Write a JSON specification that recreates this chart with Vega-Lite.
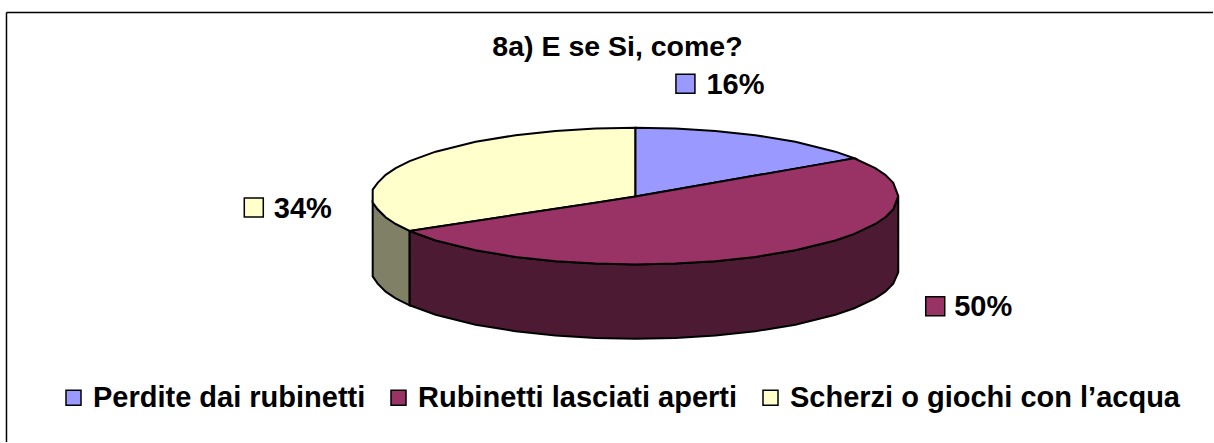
{
"$schema":"https://vega.github.io/schema/vega-lite/v6.json",
"width":1214,"height":443,
"padding":0,
"autosize":{"type":"fit","contains":"padding"},
"background":"white",
"view":{"stroke":null},
"config":{"font":"Liberation Sans"},
"datasets":{
"top":[
{"s":"Scherzi o giochi con l’acqua","x":373,"y":190,"y2":203},{"s":"Scherzi o giochi con l’acqua","x":378,"y":183.2,"y2":209.8},{"s":"Scherzi o giochi con l’acqua","x":386,"y":175.2,"y2":217.8},{"s":"Scherzi o giochi con l’acqua","x":396,"y":168.5,"y2":224.5},{"s":"Scherzi o giochi con l’acqua","x":410,"y":161.5,"y2":231.5},{"s":"Scherzi o giochi con l’acqua","x":436,"y":152,"y2":227.5},{"s":"Scherzi o giochi con l’acqua","x":476,"y":142.1,"y2":221.4},{"s":"Scherzi o giochi con l’acqua","x":516,"y":135.5,"y2":215.3},{"s":"Scherzi o giochi con l’acqua","x":556,"y":131.2,"y2":209.2},{"s":"Scherzi o giochi con l’acqua","x":596,"y":128.8,"y2":203.1},{"s":"Scherzi o giochi con l’acqua","x":636,"y":128,"y2":197},
{"s":"Perdite dai rubinetti","x":636,"y":128,"y2":197},{"s":"Perdite dai rubinetti","x":676,"y":128.8,"y2":190},{"s":"Perdite dai rubinetti","x":716,"y":131.2,"y2":183},{"s":"Perdite dai rubinetti","x":756,"y":135.5,"y2":176},{"s":"Perdite dai rubinetti","x":796,"y":142.1,"y2":169},{"s":"Perdite dai rubinetti","x":836,"y":152,"y2":162},{"s":"Perdite dai rubinetti","x":855,"y":158.6,"y2":158.6},
{"s":"Rubinetti lasciati aperti","x":410,"y":231.5,"y2":231.5},{"s":"Rubinetti lasciati aperti","x":436,"y":227.5,"y2":241},{"s":"Rubinetti lasciati aperti","x":476,"y":221.4,"y2":250.9},{"s":"Rubinetti lasciati aperti","x":516,"y":215.3,"y2":257.5},{"s":"Rubinetti lasciati aperti","x":556,"y":209.2,"y2":261.8},{"s":"Rubinetti lasciati aperti","x":596,"y":203.1,"y2":264.2},{"s":"Rubinetti lasciati aperti","x":636,"y":197,"y2":265},{"s":"Rubinetti lasciati aperti","x":676,"y":190,"y2":264.2},{"s":"Rubinetti lasciati aperti","x":716,"y":183,"y2":261.8},{"s":"Rubinetti lasciati aperti","x":756,"y":176,"y2":257.5},{"s":"Rubinetti lasciati aperti","x":796,"y":169,"y2":250.9},{"s":"Rubinetti lasciati aperti","x":836,"y":162,"y2":241},{"s":"Rubinetti lasciati aperti","x":855,"y":158.6,"y2":234.4},{"s":"Rubinetti lasciati aperti","x":876,"y":168.5,"y2":224.5},{"s":"Rubinetti lasciati aperti","x":886,"y":175.2,"y2":217.8},{"s":"Rubinetti lasciati aperti","x":894,"y":183.2,"y2":209.8},{"s":"Rubinetti lasciati aperti","x":899,"y":196.5,"y2":196.5}
],
"sideOlive":[{"x":373,"y":203,"y2":277},{"x":378,"y":209.8,"y2":284.3},{"x":386,"y":217.8,"y2":292.3},{"x":396,"y":224.5,"y2":299},{"x":410,"y":231.5,"y2":306}],
"sideRed":[{"x":410,"y":231.5,"y2":306},{"x":436,"y":241,"y2":315.5},{"x":476,"y":250.9,"y2":325.4},{"x":516,"y":257.5,"y2":332},{"x":556,"y":261.8,"y2":336.3},{"x":596,"y":264.2,"y2":338.7},{"x":636,"y":265,"y2":339.5},{"x":676,"y":264.2,"y2":338.7},{"x":716,"y":261.8,"y2":336.3},{"x":756,"y":257.5,"y2":332},{"x":796,"y":250.9,"y2":325.4},{"x":836,"y":241,"y2":315.5},{"x":855,"y":234.4,"y2":308.9},{"x":876,"y":224.5,"y2":299},{"x":886,"y":217.8,"y2":292.3},{"x":894,"y":209.8,"y2":284.3},{"x":899,"y":197,"y2":273}],
"labels":[
{"s":"Perdite dai rubinetti","pct":"16%","sx":686,"tx":707,"y":84},
{"s":"Rubinetti lasciati aperti","pct":"50%","sx":936,"tx":955,"y":307},
{"s":"Scherzi o giochi con l’acqua","pct":"34%","sx":254,"tx":274,"y":208}
],
"frame":[{"x":6.5,"x2":1214,"y":12.5,"y2":12.5},{"x":6.5,"x2":6.5,"y":12.5,"y2":443}],
"heading":[{"x":618,"y":47,"t":"8a) E se Si, come?"}]
},
"layer":[
{"data":{"name":"frame"},"mark":{"type":"rule","color":"black","strokeWidth":1.5},"encoding":{"x":{"field":"x","type":"quantitative","scale":{"domain":[0,1214],"nice":false},"axis":null},"x2":{"field":"x2"},"y":{"field":"y","type":"quantitative","scale":{"domain":[443,0],"nice":false,"zero":false},"axis":null},"y2":{"field":"y2"}}},
{"data":{"name":"sideOlive"},"mark":{"type":"area","color":"#808066","stroke":"black","strokeWidth":2},"encoding":{"x":{"field":"x","type":"quantitative"},"y":{"field":"y","type":"quantitative","stack":null},"y2":{"field":"y2"}}},
{"data":{"name":"sideRed"},"mark":{"type":"area","color":"#4D1A33","stroke":"black","strokeWidth":2},"encoding":{"x":{"field":"x","type":"quantitative"},"y":{"field":"y","type":"quantitative","stack":null},"y2":{"field":"y2"}}},
{"data":{"name":"top"},"mark":{"type":"area","stroke":"black","strokeWidth":2},"encoding":{"x":{"field":"x","type":"quantitative"},"y":{"field":"y","type":"quantitative","stack":null},"y2":{"field":"y2"},
"color":{"field":"s","type":"nominal","scale":{"domain":["Perdite dai rubinetti","Rubinetti lasciati aperti","Scherzi o giochi con l’acqua"],"range":["#9999FF","#993366","#FFFFCC"]},
"legend":{"title":null,"orient":"none","legendX":59,"legendY":383,"direction":"horizontal","columns":3,"symbolType":"square","symbolSize":225,"symbolStrokeColor":"black","symbolStrokeWidth":1.5,"symbolOpacity":1,"labelFont":"Liberation Sans","labelFontWeight":"bold","labelFontSize":29,"labelColor":"black","labelLimit":600,"labelOffset":5,"columnPadding":18,"symbolOffset":0,"rowPadding":0}}}},
{"data":{"name":"labels"},"mark":{"type":"point","shape":"square","filled":true,"size":361,"stroke":"black","strokeWidth":1.5,"opacity":1},"encoding":{"x":{"field":"sx","type":"quantitative"},"y":{"field":"y","type":"quantitative"},"fill":{"field":"s","type":"nominal","scale":{"domain":["Perdite dai rubinetti","Rubinetti lasciati aperti","Scherzi o giochi con l’acqua"],"range":["#9999FF","#993366","#FFFFCC"]},"legend":null}}},
{"data":{"name":"labels"},"mark":{"type":"text","align":"left","baseline":"middle","dy":1,"font":"Liberation Sans","fontWeight":"bold","fontSize":29,"color":"black"},"encoding":{"x":{"field":"tx","type":"quantitative"},"y":{"field":"y","type":"quantitative"},"text":{"field":"pct"}}},
{"data":{"name":"heading"},"mark":{"type":"text","align":"center","baseline":"middle","font":"Liberation Sans","fontWeight":"bold","fontSize":28.5,"color":"black"},"encoding":{"x":{"field":"x","type":"quantitative"},"y":{"field":"y","type":"quantitative"},"text":{"field":"t"}}}
]
}
